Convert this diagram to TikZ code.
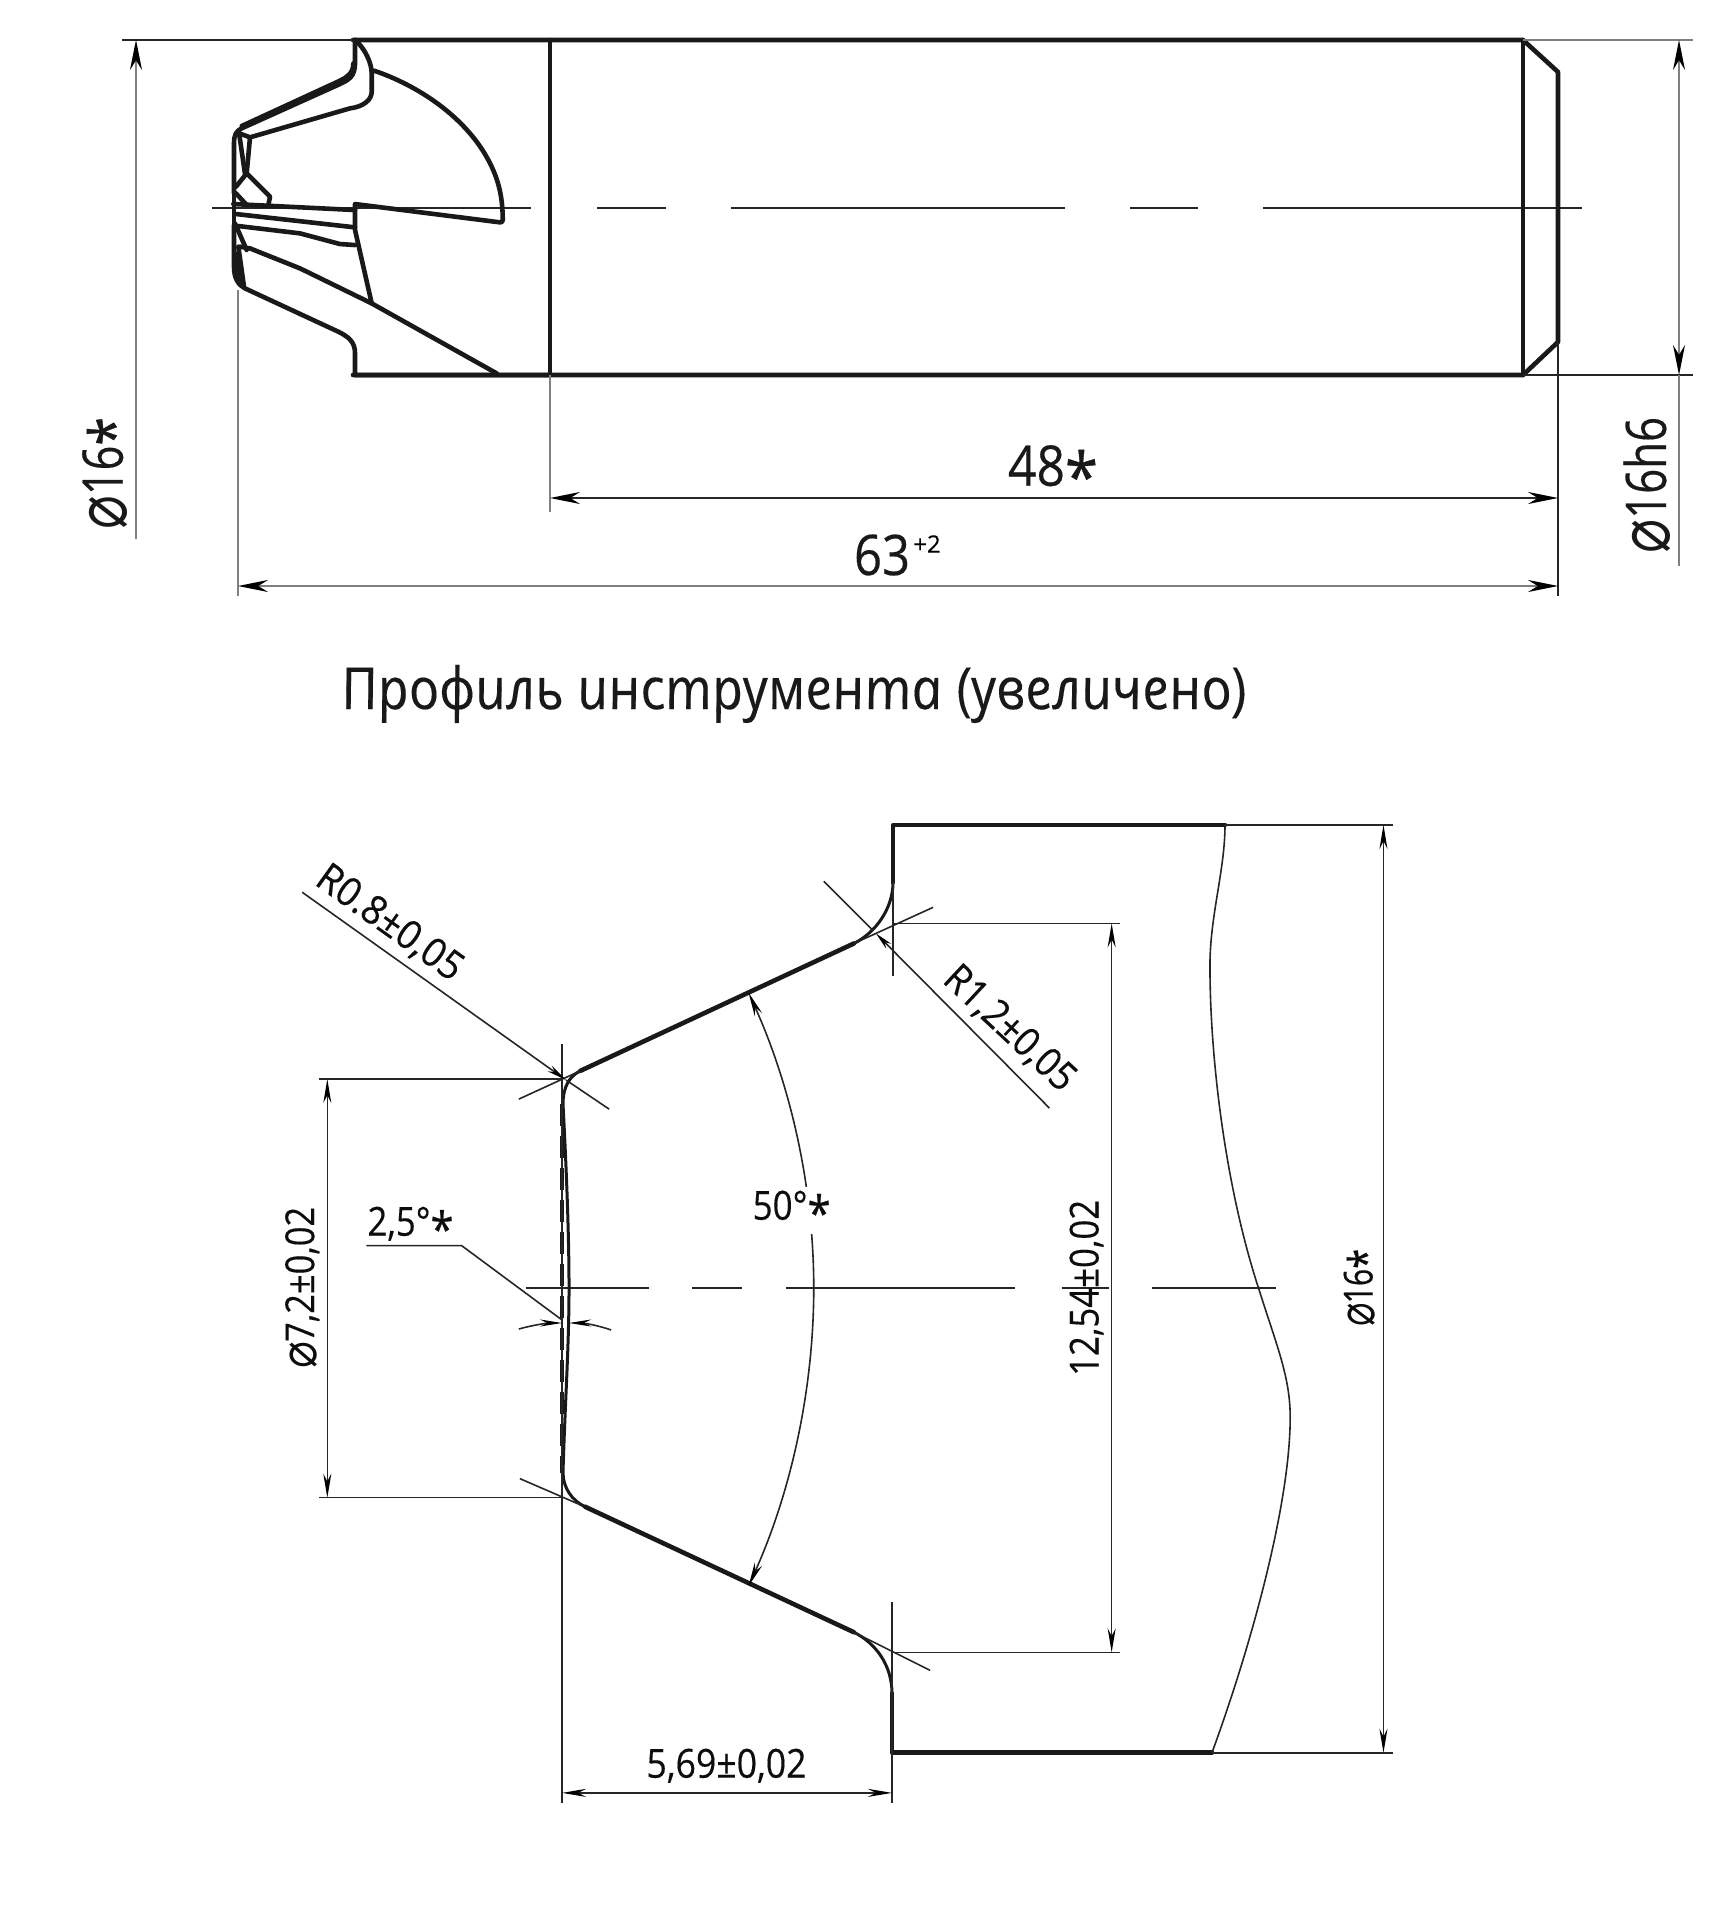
\documentclass[tikz,border=0pt]{standalone}
\usepackage{fontspec}
\setmainfont[UprightFeatures={FakeBold=0.35}]{Open Sans}
\newfontfamily\plainfont[UprightFeatures={FakeBold=0.6}]{Open Sans}
\newfontfamily\symfont{DejaVu Sans}
\newfontfamily\ttlfont[UprightFont={* Italic},UprightFeatures={FakeSlant=-0.2,FakeBold=0.2}]{Open Sans}
\usetikzlibrary{arrows.meta}
\newcommand{\dia}{\raisebox{-0.06em}{\scalebox{1.3}{\symfont ⌀}}}
\newcommand{\str}{\raisebox{-0.27em}{\scalebox{1.2}{\plainfont *}}}
\newcommand{\fitw}[2]{\resizebox{#1pt}{\height}{#2}}
\tikzset{
 x=0.5pt,y=-0.5pt,
 thickline/.style={line width=2.3pt,line join=round,line cap=round,black!90},
 midline/.style={line width=1.5pt,line join=round,line cap=round,black!90},
 thinline/.style={line width=0.8pt,black!85},
 grayline/.style={line width=0.8pt,black!50},
 bigarrows/.style={{Stealth[length=15pt,width=6pt,black]}-{Stealth[length=15pt,width=6pt,black]}},
 lowarrows/.style={{Stealth[length=12pt,width=4pt,black]}-{Stealth[length=12pt,width=4pt,black]}},
 bigtext/.style={font=\fontsize{28}{28}\selectfont,inner sep=0pt,text=black!90},
 lowtext/.style={font=\fontsize{20}{20}\selectfont,inner sep=0pt,text=black!95},
}
\begin{document}
\begin{tikzpicture}
\useasboundingbox (0,0) rectangle (1722,1920);
% ---- top view: shank
\draw[thinline] (212,208) -- (531,208);
\draw[thinline] (597,208) -- (666,208);
\draw[thinline] (731,208) -- (1065,208);
\draw[thinline] (1130,208) -- (1198,208);
\draw[thinline] (1263,208) -- (1582,208);
\draw[thickline] (353,40) -- (1523,40) -- (1558,72) -- (1558,342) -- (1523,375) -- (353,375);
\draw[thickline] (550,40) -- (550,375);
\draw[thickline] (1523,40) -- (1523,375);
% ---- top view: cutter head (zoom coordinates)
\begin{scope}[shift={(200,20)},x=0.1667pt,y=-0.1667pt]
\draw[thickline] (465,60) -- (465,130) .. controls (465,170) and (445,180) .. (420,192) -- (125,325) .. controls (108,333) and (102,345) .. (102,370) -- (102,520);
\draw[thickline] (460,130) .. controls (460,160) and (440,172) .. (420,182) -- (125,318);
\draw[thickline] (465,60) .. controls (495,85) and (515,130) .. (515,160) -- (515,215) .. controls (515,240) and (490,260) .. (450,265) -- (150,352) -- (118,340);
\draw[thickline] (522,152) .. controls (650,195) and (800,290) .. (870,430) .. controls (895,480) and (908,530) .. (908,600) .. controls (908,605) and (905,607) .. (900,607) -- (465,552) -- (465,630) -- (515,850);
\draw[thickline] (150,352) -- (140,460) -- (210,530) -- (205,555);
\draw[thickline] (140,460) -- (108,500);
\draw[thickline] (118,345) -- (135,462);
\draw[thickline] (108,520) -- (140,555);
\draw[thickline] (100,552) -- (465,570);
\draw[thickline] (108,582) -- (465,622);
\draw[thickline] (115,618) -- (300,640) -- (420,672) -- (465,675);
\draw[thickline] (102,520) -- (102,610);
\draw[thickline] (105,610) -- (140,690);
\draw[thickline] (102,615) -- (102,740) .. controls (102,775) and (115,795) .. (135,805) -- (415,935) .. controls (445,950) and (465,965) .. (465,1000) -- (465,1065) -- (1050,1065);
\draw[thickline] (120,680) -- (150,685) -- (300,745) -- (515,850) -- (890,1060);
\draw[thickline] (115,680) -- (132,800);
\draw[thickline] (105,700) -- (118,790);
\end{scope}
% ---- top view: dimensions
\coordinate (tl) at (122,40); \coordinate (tr) at (353,40);
\draw[thinline] (tl) -- (tr);
\draw[grayline] (1523,40) -- (1693,40);
\draw[thinline] (1523,375) -- (1693,375);
\draw[grayline] (550,375) -- (550,512);
\draw[thinline] (1558,342) -- (1558,596);
\draw[grayline] (238,290) -- (238,596);
\draw[grayline,{Stealth[length=15pt,width=6pt,black]}-] (136,40) -- (136,539);
\draw[grayline,bigarrows] (1679,40) -- (1679,375);
\draw[grayline] (1679,375) -- (1679,566);
\draw[thinline,bigarrows] (550,498) -- (1558,498);
\draw[grayline,bigarrows] (238,586) -- (1558,586);
\node[bigtext,rotate=90] (d16a) at (110,473) {\fitw{56}{\dia16\str}};
\node[bigtext,rotate=90] (d16h) at (1647,485) {\fitw{68}{\dia16h6}};
\node[bigtext] (d48) at (1053,473) {\fitw{45}{48\str}};
\node[bigtext] (d63) at (882,555) {\fitw{28}{63}};
\node[inner sep=0pt,font=\fontsize{12}{12}\selectfont] (d63s) at (927,544) {+2};
\node[inner sep=0pt,font=\fontsize{29}{29}\ttlfont,text=black!90] (title) at (797,694) {\fitw{453}{Профиль инструмента (увеличено)}};
% ---- lower view
\begin{scope}[shift={(562,825)},xscale=1.003,yscale=1.004,shift={(-562,-825)}]
\draw[thinline] (526,1286) -- (649,1286);
\draw[thinline] (692,1286) -- (741,1286);
\draw[thinline] (785,1286) -- (1014,1286);
\draw[thinline] (1060,1286) -- (1107,1286);
\draw[thinline] (1150,1286) -- (1274,1286);
% profile
\draw[thickline] (1223,825) -- (892,825) -- (892,882);
\draw[midline] (892,882) .. controls (892,908) and (875,932) .. (853,943);
\draw[thickline] (853,943) -- (580,1070);
\draw[midline] (580,1070) .. controls (570,1075) and (563,1085) .. (563,1103) .. controls (566,1160) and (569,1230) .. (569,1286) .. controls (569,1345) and (565,1400) .. (563,1470) .. controls (563,1485) and (572,1498) .. (585,1504);
\draw[thickline] (585,1504) -- (853,1629);
\draw[midline] (853,1629) .. controls (875,1640) and (891,1662) .. (891,1690);
\draw[thickline] (891,1690) -- (891,1749) -- (1210,1749);
\draw[line width=1.6pt,dash pattern=on 11pt off 5pt,black!90] (562,1103) -- (562,1470);
\draw[thinline] (1223,825) .. controls (1223,870) and (1208,915) .. (1208,965) .. controls (1208,1060) and (1224,1188) .. (1257,1288) .. controls (1275,1345) and (1288,1375) .. (1288,1415) .. controls (1288,1500) and (1250,1640) .. (1210,1749);
% extension lines
\draw[thinline] (562,1043) -- (562,1799);
\draw[thinline] (891,1599) -- (891,1799);
\draw[thinline] (892,882) -- (892,975);
\draw[thinline] (932,907) -- (853,943);
\draw[thinline] (929,1667) -- (853,1629);
\draw[thinline] (519,1098) -- (580,1070);
\draw[thinline] (520,1476) -- (580,1502);
\draw[thinline] (320,1078) -- (562,1078);
\draw[thinline] (320,1495) -- (562,1495);
\draw[thinline] (892,923) -- (1118,923);
\draw[thinline] (891,1649) -- (1118,1649);
\draw[thinline] (1223,825) -- (1390,825);
\draw[thinline] (1210,1749) -- (1390,1749);
% leaders and dimensions
\draw[thinline] (566,1079) -- (609,1108);
\draw[thinline,-{Stealth[length=10pt,width=3.5pt,black]}] (303,892) -- (566,1079);
\draw[thinline] (823,881) -- (872,930);
\draw[thinline,-{Stealth[length=9pt,width=3.5pt,black]}] (1048,1107) -- (875,933);
\draw[thinline,lowarrows] (328,1078) -- (328,1495);
\draw[thinline,lowarrows] (1110,923) -- (1110,1649);
\draw[thinline,lowarrows] (1381,825) -- (1381,1749);
\draw[thinline,lowarrows] (562,1789) -- (891,1789);
\draw[thinline,lowarrows] (748,992) .. controls (790,1085) and (813,1185) .. (813,1286) .. controls (813,1388) and (790,1490) .. (748,1583);
\draw[thinline] (367,1244) -- (462,1244) -- (562,1318);
\draw[thinline,-{Stealth[length=11pt,width=3.5pt,black]}] (519,1327) .. controls (533,1323) and (548,1321) .. (562,1321);
\draw[thinline,-{Stealth[length=11pt,width=3.5pt,black]}] (611,1328) .. controls (597,1323) and (583,1321) .. (569,1321);
\node[lowtext,rotate=-35.5] (r08) at (390,923) {\fitw{85}{R0.8±0,05}};
\node[lowtext,rotate=-43] (r12) at (1008,1028) {\fitw{82}{R1,2±0,05}};
\node[lowtext,rotate=90] (d72) at (303,1286) {\fitw{81}{\dia7,2±0,02}};
\node[lowtext] (a25) at (411,1225) {\fitw{43}{2,5°\str}};
\node[lowtext,fill=white,inner sep=2pt] (a50) at (791,1209) {\fitw{39}{50°\str}};
\node[lowtext,rotate=90] (d1254) at (1085,1286) {\fitw{88}{12,54±0,02}};
\node[lowtext,rotate=90] (d16b) at (1361,1286) {\fitw{39}{\dia16\str}};
\node[lowtext] (d569) at (726,1762) {\fitw{80}{5,69±0,02}};
\end{scope}
\end{tikzpicture}
\end{document}
